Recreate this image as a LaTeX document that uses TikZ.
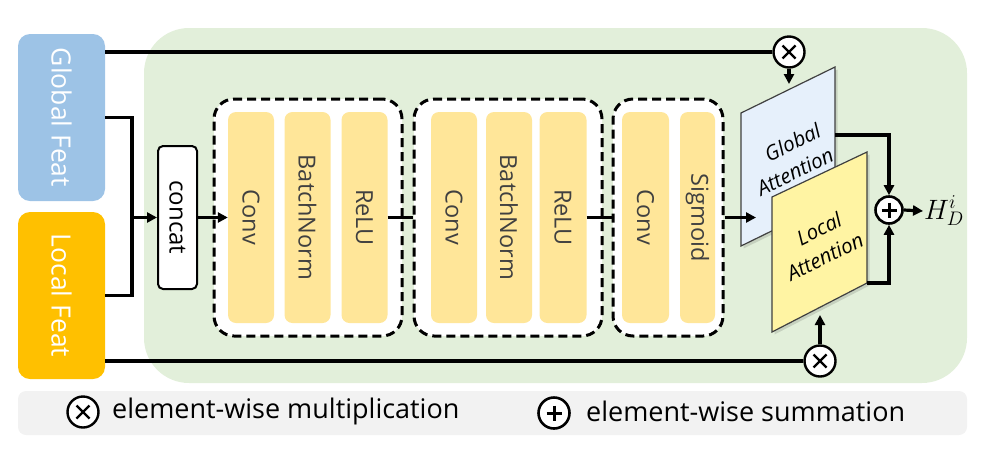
\documentclass[tikz,border=0pt]{standalone}
\usepackage{fix-cm}
\usepackage{fontspec}
\setmainfont{Open Sans}
\usetikzlibrary{arrows.meta,calc}
\definecolor{gfeat}{HTML}{9DC3E6}
\definecolor{lfeat}{HTML}{FFC000}
\definecolor{bggreen}{HTML}{E2EFDA}
\definecolor{barY}{HTML}{FFE699}
\definecolor{bartext}{HTML}{404040}
\definecolor{gatt}{HTML}{E6F0FB}
\definecolor{latt}{HTML}{FFF4A3}
\definecolor{leggray}{HTML}{F2F2F2}
\definecolor{attline}{HTML}{404040}
\begin{document}
\begin{tikzpicture}[x=1pt,y=-1pt,
  conn/.style={line width=3.2pt},
  arr/.style={conn,-{Triangle[length=10pt,width=10pt]}},
  feat/.style={rounded corners=12pt, text=white, minimum width=87pt, minimum height=167pt, inner sep=0pt, font=\fontsize{26.5}{30}\selectfont},
  bar/.style={fill=barY, rounded corners=8pt, minimum height=211pt, inner sep=0pt, text=bartext, font=\fontsize{23.5}{28}\selectfont},
  dbox/.style={draw, fill=white, line width=3pt, dash pattern=on 9pt off 5pt, rounded corners=20pt, minimum height=237pt, inner sep=0pt},
  multc/.style={circle, draw, fill=white, line width=2.4pt, minimum size=31pt, inner sep=0pt,
    path picture={\draw[line width=2.4pt] (path picture bounding box.center) ++(-6.5,-6.5) -- ++(13,13);
                  \draw[line width=2.4pt] (path picture bounding box.center) ++(-6.5,6.5) -- ++(13,-13);}},
  addc/.style={circle, draw, fill=white, line width=2.6pt, minimum size=#1, inner sep=0pt,
    path picture={\draw[line width=3pt] (path picture bounding box.center) ++(-7.5,0) -- ++(15,0);
                  \draw[line width=3pt] (path picture bounding box.center) ++(0,-7.5) -- ++(0,15);}},
  attlab/.style={font=\fontsize{20.5}{27}\itshape\selectfont, align=left, inner sep=0pt, rotate=26},
  legtext/.style={anchor=west, inner sep=0pt, font=\fontsize{27}{32}\selectfont},
]
\useasboundingbox (0,0) rectangle (1004,448);
% background panels
\fill[bggreen, rounded corners=45pt] (144,28) rectangle (967,383);
\node[fill=leggray, rounded corners=8pt, minimum width=949pt, minimum height=44pt, inner sep=0pt] (leg) at (492.5,413) {};

% feature boxes
\node[feat, fill=gfeat] (gf) at (61.5,117.5) {\rotatebox{-90}{Global Feat}};
\node[feat, fill=lfeat] (lf) at (61.5,295.5) {\rotatebox{-90}{Local Feat}};

% concat
\node[draw, fill=white, line width=2pt, rounded corners=5pt, minimum width=39pt, minimum height=143pt, inner sep=0pt,
      font=\fontsize{24}{28}\selectfont] (cc) at (177.5,217.5) {\rotatebox{-90}{concat}};

% dashed groups
\node[dbox, minimum width=188pt] (d1) at (308,217.5) {};
\node[dbox, minimum width=188pt] (d2) at (508,217.5) {};
\node[dbox, minimum width=110pt] (d3) at (668,217.5) {};

% bars
\node[bar, minimum width=46pt] (c1) at (251,217.5) {\rotatebox{-90}{Conv}};
\node[bar, minimum width=46pt] (b1) at (307.5,217.5) {\rotatebox{-90}{BatchNorm}};
\node[bar, minimum width=46pt] (r1) at (364.5,217.5) {\rotatebox{-90}{ReLU}};
\node[bar, minimum width=46pt] (c2) at (454,217.5) {\rotatebox{-90}{Conv}};
\node[bar, minimum width=46pt] (b2) at (509,217.5) {\rotatebox{-90}{BatchNorm}};
\node[bar, minimum width=47pt] (r2) at (563,217.5) {\rotatebox{-90}{ReLU}};
\node[bar, minimum width=47pt] (c3) at (645.5,217.5) {\rotatebox{-90}{Conv}};
\node[bar, minimum width=35pt] (s3) at (697.5,217.5) {\rotatebox{-90}{Sigmoid}};

% attention parallelograms
\fill[black, opacity=0.12] (743.5,115.5) -- (837.5,69.5) -- (837.5,202.5) -- (743.5,248.5) -- cycle;
\draw[attline, line width=1.2pt, fill=gatt] (741,113) coordinate (gtl) -- (835,67) coordinate (gtr) -- (835,200) coordinate (gbr) -- (741,246) coordinate (gbl) -- cycle;
\fill[black, opacity=0.12] (774.5,199.5) -- (869.5,154.5) -- (869.5,285.5) -- (774.5,334.5) -- cycle;
\draw[attline, line width=1.2pt, fill=latt] (772,197) coordinate (ltl) -- (867,152) coordinate (ltr) -- (867,283) coordinate (lbr) -- (772,332) coordinate (lbl) -- cycle;
\node[attlab] (ga) at (789,159) {\hspace*{22pt}Global\\Attention};
\node[attlab] (la) at (819,244) {\hspace*{24pt}Local\\Attention};

% operators
\node[multc] (m1) at (789,52) {};
\node[multc] (m2) at (820,361) {};
\node[addc=27pt] (ad) at (889,210) {};
\node[anchor=west, inner sep=1pt, font=\fontsize{28}{32}\selectfont] (hd) at (923,211) {$H_D^i$};

% connectors
\coordinate (j) at (132,217.5);
\draw[conn] (gf.east) -| (j) |- (lf.east);
\draw[arr] (j) -- (cc.west);
\draw[arr] (cc.east) -- (c1.west);
\draw[conn] (r1.east) -- (d2.west);
\draw[conn] (r2.east) -- (d3.west);
\coordinate (gin) at (756,217.5);
\draw[arr] (d3.east) -- (gin);
\draw[conn] (gf.east |- m1) -- (m1.west);
\draw[conn] (lf.east |- m2) -- (m2.west);
\coordinate (gtop) at (789,84);
\coordinate (lbot) at (820,315);
\draw[arr] (m1.south) -- (gtop);
\draw[arr] (m2.north) -- (lbot);
\coordinate (gout) at (835,135);
\draw[arr] (gout) -| (ad.north);
\draw[arr] (lbr) -| (ad.south);
\draw[arr] (ad.east) -- (hd.west);

% legend
\node[multc] (lm) at (83,412) {};
\node[legtext] (lmt) at (112,411) {element-wise multiplication};
\node[addc=31pt] (la2) at (554,413) {};
\node[legtext] (lat) at (586,411) {element-wise summation};
\end{tikzpicture}
\end{document}
